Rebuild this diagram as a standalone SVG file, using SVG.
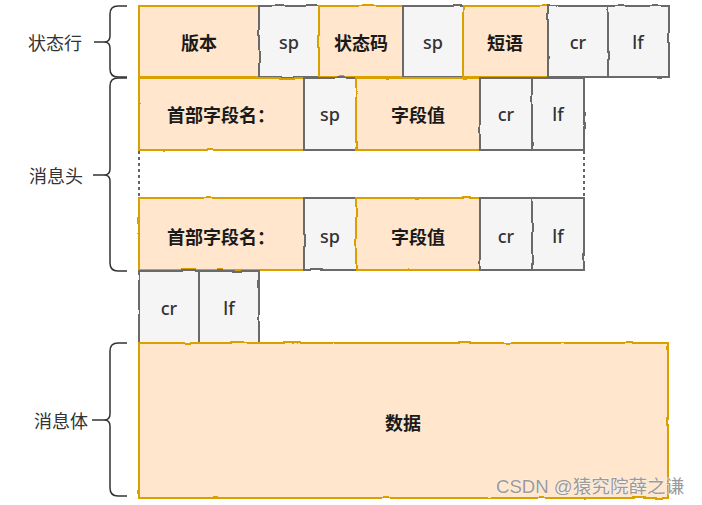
<svg xmlns="http://www.w3.org/2000/svg" width="702" height="505" viewBox="0 0 702 505">
<style>
.o{fill:#ffe6cc;stroke:#d9a000;stroke-width:2}
.g{fill:#f5f5f5;stroke:#6b6b6b;stroke-width:2}
.t{font-family:"Noto Sans CJK SC","Noto Sans",sans-serif;font-size:18px;font-weight:bold;fill:#1a1a1a;text-anchor:middle;dominant-baseline:central}
.gt{font-family:"Noto Sans","Noto Sans CJK SC",sans-serif;font-size:18px;font-weight:500;fill:#333333;text-anchor:middle;dominant-baseline:central}
.lb{font-family:"Noto Sans CJK SC",sans-serif;font-size:18px;fill:#333333;text-anchor:end;dominant-baseline:central}
.br{fill:none;stroke:#333333;stroke-width:1.5}
.dot{stroke:#333333;stroke-width:1.5;stroke-dasharray:3 3;fill:none}
.wm{font-family:"Liberation Sans","Noto Sans CJK SC",sans-serif;font-size:18.6px;fill:#9a9a9a;stroke:#ffffff;stroke-width:0.6;paint-order:stroke}
</style>
<defs>
<filter id="rough" x="-5%" y="-5%" width="110%" height="110%">
<feTurbulence type="fractalNoise" baseFrequency="0.04" numOctaves="2" seed="3" result="n"/>
<feDisplacementMap in="SourceGraphic" in2="n" scale="2.5" xChannelSelector="R" yChannelSelector="G"/>
</filter>
</defs>
<rect width="702" height="505" fill="#ffffff"/>

<g id="labels">
<g id="label-status"><path class="br" d="M127,6 H118 Q110,6 110,14 V36 Q110,42 104,42 Q110,42 110,48 V69 Q110,77 118,77 H127 M94,42 H104"/><text class="lb" x="82" y="42">状态行</text></g>
<g id="label-header"><path class="br" d="M127,78 H118 Q110,78 110,86 V169 Q110,175 104,175 Q110,175 110,181 V263 Q110,271 118,271 H127 M93,175 H104"/><text class="lb" x="83" y="175">消息头</text></g>
<g id="label-body"><path class="br" d="M127,343 H118 Q110,343 110,351 V414 Q110,420 104,420 Q110,420 110,426 V488 Q110,496 118,496 H127 M92,420 H104"/><text class="lb" x="88" y="420">消息体</text></g>
</g>

<g id="row1">
<g id="version"><rect class="o" x="139" y="6" width="120" height="71" filter="url(#rough)"/><text class="t" x="199" y="42">版本</text></g>
<g id="sp1"><rect class="g" x="259" y="6" width="60" height="71" filter="url(#rough)"/><text class="gt" x="289" y="42">sp</text></g>
<g id="code"><rect class="o" x="319" y="6" width="84" height="71" filter="url(#rough)"/><text class="t" x="361" y="42">状态码</text></g>
<g id="sp2"><rect class="g" x="403" y="6" width="60" height="71" filter="url(#rough)"/><text class="gt" x="433" y="42">sp</text></g>
<g id="phrase"><rect class="o" x="463" y="6" width="85" height="71" filter="url(#rough)"/><text class="t" x="505" y="42">短语</text></g>
<g id="cr1"><rect class="g" x="548" y="6" width="60" height="71" filter="url(#rough)"/><text class="gt" x="578" y="42">cr</text></g>
<g id="lf1"><rect class="g" x="608" y="6" width="61" height="71" filter="url(#rough)"/><text class="gt" x="638" y="42">lf</text></g>
</g>

<g id="row2">
<g id="hname1"><rect class="o" x="139" y="78" width="165" height="72" filter="url(#rough)"/><text class="t" x="221" y="114">首部字段名：</text></g>
<g id="sp3"><rect class="g" x="304" y="78" width="52" height="72" filter="url(#rough)"/><text class="gt" x="330" y="114">sp</text></g>
<g id="hval1"><rect class="o" x="356" y="78" width="124" height="72" filter="url(#rough)"/><text class="t" x="418" y="114">字段值</text></g>
<g id="cr2"><rect class="g" x="480" y="78" width="52" height="72" filter="url(#rough)"/><text class="gt" x="506" y="114">cr</text></g>
<g id="lf2"><rect class="g" x="532" y="78" width="52" height="72" filter="url(#rough)"/><text class="gt" x="558" y="114">lf</text></g>
</g>

<g id="connectors">
<path class="dot" d="M139,151 V197 M584,151 V197"/>
</g>

<g id="row3">
<g id="hname2"><rect class="o" x="139" y="198" width="165" height="72" filter="url(#rough)"/><text class="t" x="221" y="236">首部字段名：</text></g>
<g id="sp4"><rect class="g" x="304" y="198" width="52" height="72" filter="url(#rough)"/><text class="gt" x="330" y="236">sp</text></g>
<g id="hval2"><rect class="o" x="356" y="198" width="124" height="72" filter="url(#rough)"/><text class="t" x="418" y="236">字段值</text></g>
<g id="cr3"><rect class="g" x="480" y="198" width="52" height="72" filter="url(#rough)"/><text class="gt" x="506" y="236">cr</text></g>
<g id="lf3"><rect class="g" x="532" y="198" width="52" height="72" filter="url(#rough)"/><text class="gt" x="558" y="236">lf</text></g>
</g>

<g id="row4">
<g id="cr4"><rect class="g" x="139" y="271" width="60" height="72" filter="url(#rough)"/><text class="gt" x="169" y="308">cr</text></g>
<g id="lf4"><rect class="g" x="199" y="271" width="60" height="72" filter="url(#rough)"/><text class="gt" x="229" y="308">lf</text></g>
</g>

<g id="body">
<rect class="o" x="139" y="343" width="529" height="155" filter="url(#rough)"/><text class="t" x="403" y="422">数据</text>
</g>

<text class="wm" x="496" y="493">CSDN @猿究院薛之谦</text>
</svg>
